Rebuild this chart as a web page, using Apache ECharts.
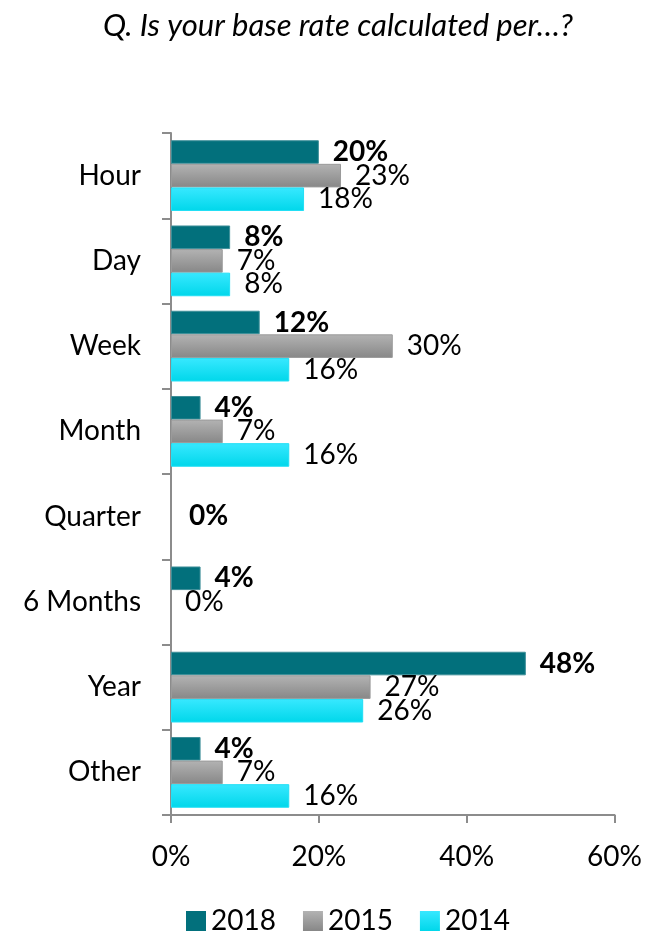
<!DOCTYPE html>
<html>
<head>
<meta charset="utf-8">
<script src="https://cdn.jsdelivr.net/npm/echarts@6/dist/echarts.min.js"></script>
<style>
  html, body { margin: 0; padding: 0; background: #fff; }
  #chart { width: 645px; height: 932px; }
</style>
</head>
<body>
<div id="chart"></div>
<script>
// Survey answers: unit of the base rate, share of respondents per year
const categories = ['Hour', 'Day', 'Week', 'Month', 'Quarter', '6 Months', 'Year', 'Other'];
const values2018 = [20, 8, 12, 4, 0, 4, 48, 4];
const values2015 = [23, 7, 30, 7, '-', 0, 27, 7];
const values2014 = [18, 8, 16, 16, '-', '-', 26, 16];
const xTicks = [0, 20, 40, 60];

const FONT = 'Lato, "Open Sans", sans-serif';

const grad = (top, bottom) => new echarts.graphic.LinearGradient(0, 0, 0, 1, [
  { offset: 0, color: top },
  { offset: 1, color: bottom }
]);

// zero-length bars get no outline; a lone zero label may be nudged to the band centre
const prepare = (data, zeroLabelShift) => data.map(v => {
  if (v !== 0) return v;
  const item = { value: 0, itemStyle: { borderWidth: 0 } };
  if (zeroLabelShift) item.label = { offset: [4, zeroLabelShift] };
  return item;
});

function barSeries(name, data, color, border, bold, zeroLabelShift) {
  return {
    name: name,
    type: 'bar',
    data: prepare(data, zeroLabelShift),
    barGap: '0%',
    barCategoryGap: '17%',
    itemStyle: { color: color, borderColor: border, borderWidth: 1 },
    label: {
      show: true,
      position: 'right',
      distance: 14,
      formatter: p => p.value + '%',
      fontFamily: FONT,
      fontSize: 28,
      fontWeight: bold ? 'bold' : 'normal',
      color: '#000'
    }
  };
}

const chart = echarts.init(document.getElementById('chart'));
chart.setOption({
  animation: false,
  title: {
    text: 'Q. Is your base rate calculated per\u2026?',
    left: 98,
    top: 5,
    textStyle: { fontFamily: FONT, fontStyle: 'italic', fontWeight: 'normal', fontSize: 31, color: '#000' }
  },
  legend: {
    top: 902,
    left: 181,
    icon: 'rect',
    itemWidth: 20,
    itemHeight: 20,
    itemGap: 27,
    itemStyle: { borderWidth: 0 },
    textStyle: { fontFamily: FONT, fontSize: 28, color: '#000' },
    data: ['2018', '2015', '2014']
  },
  grid: { left: 171, right: 29, top: 133, bottom: 117, containLabel: false },
  xAxis: {
    type: 'value',
    min: xTicks[0],
    max: xTicks[xTicks.length - 1],
    interval: 20,
    splitLine: { show: false },
    axisLine: { show: true, lineStyle: { color: '#8c8c8c', width: 2 } },
    axisTick: { show: true, length: 8, lineStyle: { color: '#8c8c8c', width: 2 } },
    axisLabel: { formatter: '{value}%', fontFamily: FONT, fontSize: 28, color: '#000', margin: 28 }
  },
  yAxis: {
    type: 'category',
    data: categories,
    inverse: true,
    axisLine: { show: true, lineStyle: { color: '#8c8c8c', width: 2 } },
    axisTick: { show: true, length: 9, lineStyle: { color: '#8c8c8c', width: 2 } },
    axisLabel: { fontFamily: FONT, fontSize: 28, color: '#000', margin: 30 }
  },
  series: [
    barSeries('2018', values2018, '#02707c', '#3d8f99', true, 23),
    barSeries('2015', values2015, grad('#b3b3b3', '#878787'), '#9a9a9a', false),
    barSeries('2014', values2014, grad('#38e8ff', '#00d7ea'), '#22dff5', false)
  ]
});
</script>
</body>
</html>
